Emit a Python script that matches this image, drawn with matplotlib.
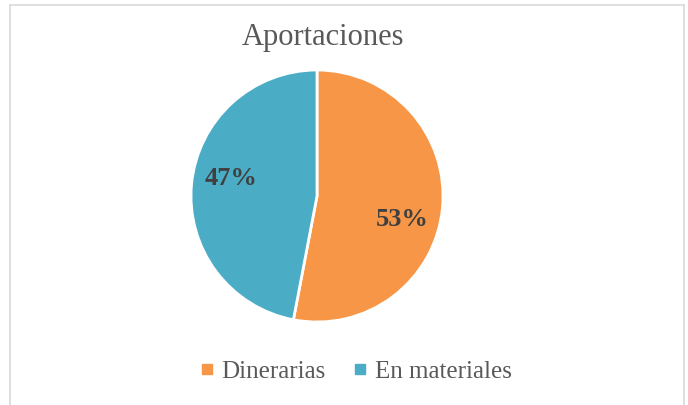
import numpy as np
import matplotlib.pyplot as plt
from matplotlib.lines import Line2D

categorias = ['Dinerarias', 'En materiales']
valores = [53, 47]
colores = ['#F79646', '#4BACC6']

plt.rcParams['font.family'] = ['Liberation Serif', 'DejaVu Serif']

fig = plt.figure(figsize=(6.88, 4.06), dpi=100)

# marco gris alrededor del grafico
W, H = 688, 406
for xs, ys in [([10, 10], [406, 6]), ([10, 684], [6, 6]), ([684, 684], [6, 406])]:
    fig.add_artist(Line2D([x / W for x in xs], [1 - y / H for y in ys],
                          color='#D9D9D9', lw=1.2))

cx, cy, r = 317, 197, 126
ax = fig.add_axes([(cx - r) / W, (H - cy - r) / H, 2 * r / W, 2 * r / H])
wedges, texts, autotexts = ax.pie(valores, colors=colores, startangle=90, counterclock=False,
                                  autopct='%1.0f%%', pctdistance=0.7,
                                  wedgeprops=dict(edgecolor='white', linewidth=2),
                                  textprops=dict(fontsize=19, fontweight='bold', color='#404040'))
ax.set_xlim(-1, 1)
ax.set_ylim(-1, 1)

# etiquetas un poco desplazadas como en Excel
for w, t, d in zip(wedges, autotexts, [-9.5, -7]):
    ang = np.deg2rad((w.theta1 + w.theta2) / 2 + d)
    t.set_position((0.7 * np.cos(ang), 0.7 * np.sin(ang)))

fig.text(323 / W, 1 - 38 / H, 'Aportaciones', ha='center', va='center',
         fontsize=22, color='#595959')

handles = [Line2D([], [], marker='s', ls='', markersize=6.5, color=c) for c in colores]
fig.legend(handles, categorias, loc='center', bbox_to_anchor=(356 / W, 1 - 372 / H),
           ncol=2, frameon=False, fontsize=18, labelcolor='#595959',
           handlelength=0.5, handletextpad=0.35, columnspacing=1.1)

fig.savefig('out.png', dpi=100)
